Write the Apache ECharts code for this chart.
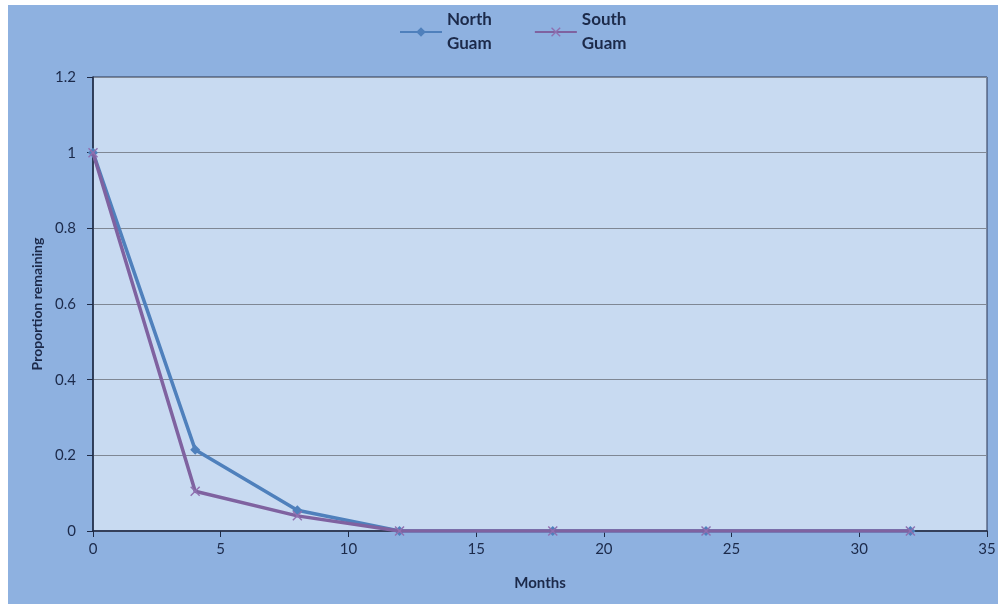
<!DOCTYPE html>
<html>
<head>
<meta charset="utf-8">
<script src="https://cdn.jsdelivr.net/npm/echarts@6/dist/echarts.min.js"></script>
<style>
  html, body { margin: 0; padding: 0; background: #ffffff; }
  #chart { width: 1000px; height: 604px; }
</style>
</head>
<body>
<div id="chart"></div>
<script>
// Months after placement
const months = [0, 4, 8, 12, 18, 24, 32];
// Proportion remaining per site
const northGuam = [1, 0.215, 0.055, 0, 0, 0, 0];
const southGuam = [1, 0.105, 0.04, 0, 0, 0, 0];
const seriesNames = ['North\nGuam', 'South\nGuam'];

const textColor = '#1c2a4a';
const fontFam = 'Lato, "Open Sans", sans-serif';
const xMark = 'path://M0,1 L1,0 L5,4 L9,0 L10,1 L6,5 L10,9 L9,10 L5,6 L1,10 L0,9 L4,5 Z';

const chart = echarts.init(document.getElementById('chart'), null, { renderer: 'canvas' });

chart.setOption({
  backgroundColor: '#ffffff',
  animation: false,
  graphic: [{
    type: 'rect',
    z: -10,
    shape: { x: 8, y: 5, width: 990, height: 599 },
    style: { fill: '#8eb1e0' }
  }],
  legend: {
    top: 3,
    left: 394,
    itemGap: 42,
    itemWidth: 42,
    itemHeight: 12,
    textStyle: { color: textColor, fontSize: 17, fontFamily: fontFam, fontWeight: 'bold', lineHeight: 24 },
    data: seriesNames
  },
  grid: {
    left: 93, right: 13, top: 77, bottom: 73,
    show: true,
    backgroundColor: '#c8daf1',
    borderColor: '#2a3550',
    borderWidth: 1
  },
  xAxis: {
    type: 'value',
    min: 0, max: 35, interval: 5,
    name: 'Months',
    nameLocation: 'middle',
    nameGap: 45,
    nameTextStyle: { color: textColor, fontSize: 15, fontWeight: 'bold', fontFamily: fontFam },
    axisLine: { show: true, lineStyle: { color: '#1e2a45', width: 1.5 } },
    axisTick: { show: true, inside: false, length: 6, lineStyle: { color: '#1e2a45' } },
    axisLabel: { color: textColor, fontSize: 15, fontFamily: fontFam, margin: 11 },
    splitLine: { show: false }
  },
  yAxis: {
    type: 'value',
    min: 0, max: 1.2, interval: 0.2,
    name: 'Proportion remaining',
    nameLocation: 'middle',
    nameGap: 49,
    nameRotate: 90,
    nameTextStyle: { color: textColor, fontSize: 14, fontWeight: 'bold', fontFamily: fontFam },
    axisLine: { show: true, lineStyle: { color: '#1e2a45', width: 1.5 } },
    axisTick: { show: true, inside: false, length: 6, lineStyle: { color: '#1e2a45' } },
    axisLabel: {
      color: textColor, fontSize: 15, fontFamily: fontFam, margin: 17,
      formatter: v => String(Math.round(v * 10) / 10)
    },
    splitLine: { show: true, lineStyle: { color: '#7f8794', width: 1 } }
  },
  series: [
    {
      name: seriesNames[0],
      type: 'line',
      data: months.map((m, i) => [m, northGuam[i]]),
      symbol: 'diamond',
      symbolSize: 10,
      lineStyle: { color: '#4f80bc', width: 3.5 },
      itemStyle: { color: '#4f80bc' },
      z: 3
    },
    {
      name: seriesNames[1],
      type: 'line',
      data: months.map((m, i) => [m, southGuam[i]]),
      symbol: xMark,
      symbolSize: 10,
      lineStyle: { color: '#7f62a0', width: 3.5 },
      itemStyle: { color: '#8f70b0' },
      z: 4
    }
  ]
});
</script>
</body>
</html>
